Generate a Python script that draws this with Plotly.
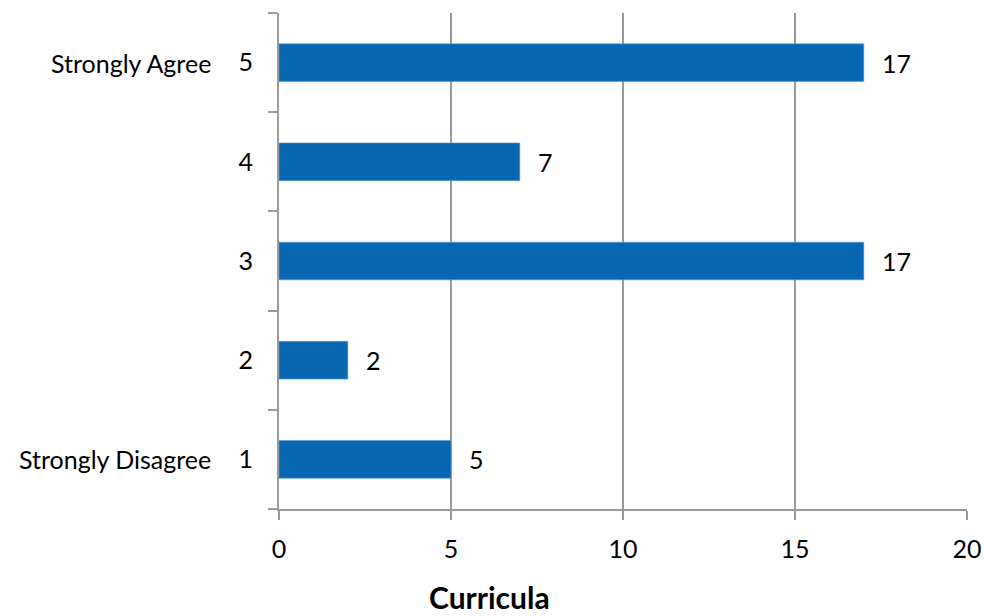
import plotly.graph_objects as go

# Survey responses on a 1-5 agreement scale
ratings = ["1", "2", "3", "4", "5"]
counts = [5, 2, 17, 7, 17]
scale_ends = {"5": "Strongly Agree", "1": "Strongly Disagree"}
x_ticks = [0, 5, 10, 15, 20]

BAR = "#0767B2"
GRID = "#9A9A9A"
FONT = "Lato"
FS = 25

fig = go.Figure()
fig.add_trace(go.Bar(
    x=counts, y=ratings, orientation="h", width=0.38,
    marker=dict(color=BAR, line=dict(color="#5B9BD5", width=0.6)),
    hoverinfo="x+y",
))

# value labels to the right of each bar (category axis -> position by index)
for i, c in enumerate(counts):
    fig.add_annotation(x=c, y=i, xref="x", yref="y", text=str(c),
                       showarrow=False, xanchor="left", xshift=16,
                       font=dict(family=FONT, size=FS, color="#000"))

# scale-end descriptions beside the rating numbers
L, R, T, B = 279, 17, 13, 107
plot_w = 984 - L - R
plot_h = 616 - T - B
for r, label in scale_ends.items():
    fig.add_annotation(x=(213 - L) / plot_w, y=ratings.index(r),
                       xref="paper", yref="y",
                       text=label, showarrow=False, xanchor="right",
                       font=dict(family=FONT, size=FS, color="#000"))

fig.add_annotation(x=(489 - L) / plot_w, y=-(597 - (616 - B)) / plot_h,
                   xref="paper", yref="paper", text="<b>Curricula</b>",
                   showarrow=False, xanchor="center", yanchor="middle",
                   font=dict(family=FONT, size=30, color="#000"))

fig.update_layout(
    width=984, height=616,
    margin=dict(l=L, r=R, t=T, b=B),
    paper_bgcolor="white", plot_bgcolor="white",
    showlegend=False,
    font=dict(family=FONT, size=FS, color="#000"),
    xaxis=dict(range=[0, 20], tickvals=x_ticks, showgrid=True,
               gridcolor=GRID, gridwidth=2, zeroline=False,
               showline=True, linecolor=GRID, linewidth=2,
               ticks="outside", ticklen=9, tickcolor=GRID, tickwidth=2,
               ticklabelstandoff=8, automargin=False),
    yaxis=dict(type="category", categoryorder="array", categoryarray=ratings,
               range=[-0.5, 4.5],
               tickson="boundaries", ticks="outside", ticklen=9,
               tickcolor=GRID, tickwidth=2, showgrid=False,
               showline=True, linecolor=GRID, linewidth=2,
               ticklabelstandoff=19, automargin=False),
)

fig.write_html("out.html")
